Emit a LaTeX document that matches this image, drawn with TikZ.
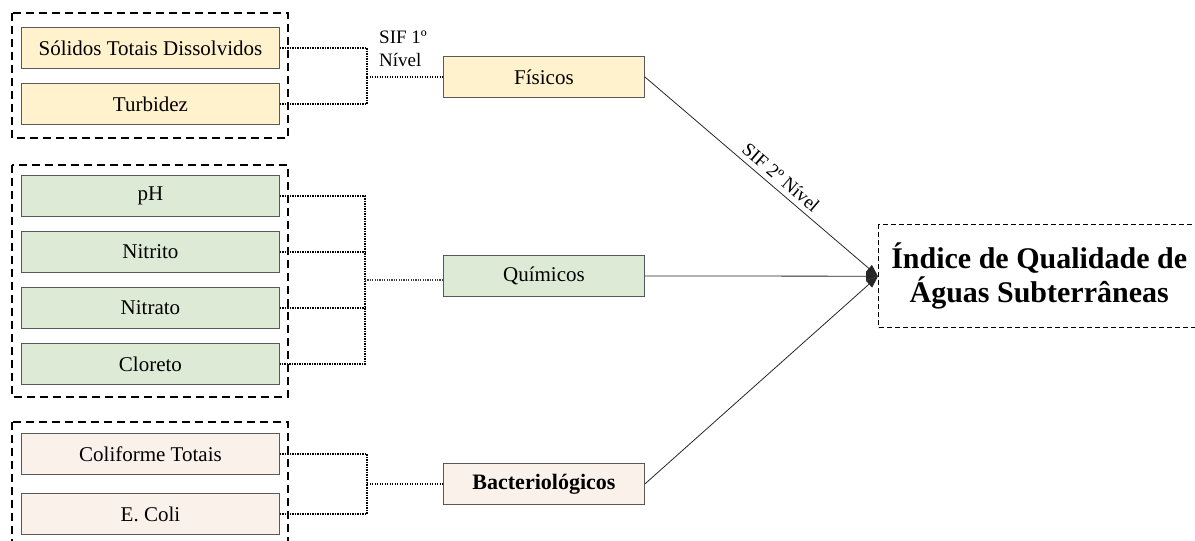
\documentclass[tikz,border=0pt]{standalone}
\usepackage{fontspec}
\setmainfont{Liberation Serif}
\usetikzlibrary{arrows.meta,calc}

\definecolor{fisfill}{HTML}{FFF2CC}
\definecolor{quifill}{HTML}{DDEBD6}
\definecolor{bacfill}{HTML}{FBF1EB}
\definecolor{boxline}{HTML}{595959}

\begin{document}
\begin{tikzpicture}[x=1pt,y=-1pt,
  param/.style={draw=boxline, line width=0.9pt, minimum width=258pt,
    minimum height=41pt, inner sep=0pt, anchor=north west,
    font=\fontsize{21}{24}\selectfont},
  group/.style={draw=boxline, line width=0.9pt, minimum width=201pt,
    minimum height=41pt, inner sep=0pt, anchor=north west,
    font=\fontsize{21}{24}\selectfont},
  groupframe/.style={draw=black, line width=2pt, dash pattern=on 8pt off 5pt},
  link/.style={draw=black, line width=2pt, dash pattern=on 1.4pt off 1.1pt},
  thinlink/.style={draw=black!75, line width=1.3pt, dash pattern=on 1.2pt off 1.2pt},
  flow/.style={draw=black!85, line width=0.8pt,
    -{Triangle[length=12pt,width=9pt]}},
  siflabel/.style={font=\fontsize{19}{23}\selectfont, inner sep=0pt}
]
\useasboundingbox (0,0) rectangle (1195,541);

% dashed frames around the parameter groups
\draw[groupframe] (12,13) rectangle (288,138);
\draw[groupframe] (12,165) rectangle (288,397);
\draw[groupframe] (12,422) rectangle (288,560);

% physical parameters
\node[param, fill=fisfill] (sol) at (21,27) {Sólidos Totais Dissolvidos};
\node[param, fill=fisfill] (tur) at (21,83) {Turbidez};
% chemical parameters
\node[param, fill=quifill] (ph)  at (21,175) {pH};
\node[param, fill=quifill] (nti) at (21,231) {Nitrito};
\node[param, fill=quifill] (nta) at (21,287) {Nitrato};
\node[param, fill=quifill] (clo) at (21,343) {Cloreto};
% bacteriological parameters
\node[param, fill=bacfill] (col) at (21,433) {Coliforme Totais};
\node[param, fill=bacfill] (eco) at (21,493) {E. Coli};

% first-level groups
\node[group, fill=fisfill] (fis) at (443,56) {Físicos};
\node[group, fill=quifill] (qui) at (443,255) {Químicos};
\node[group, fill=bacfill, font=\bfseries\fontsize{22}{24}\selectfont] (bac) at (443,463) {Bacteriológicos};

% final index
\node[draw=black, line width=1.4pt, dash pattern=on 5pt off 3pt, fill=white,
  minimum width=321pt, minimum height=103pt, anchor=north west, align=center,
  font=\bfseries\fontsize{30}{34}\selectfont] (idx) at (878,224)
  {Índice de Qualidade de\\Águas Subterrâneas};

% junctions of the first-level brackets
\coordinate (j1) at (367,76.5);
\coordinate (j2) at (365,280);
\coordinate (j3) at (367,483.5);

\draw[link] (sol.east) -| (j1);
\draw[link] (tur.east) -| (j1);
\draw[link] (j1) -- (j1 -| fis.west);

% one bracket path for the chemical group, plus the inner branches
\draw[link] (ph.east) -- (ph.east -| j2) -- (clo.east -| j2) -- (clo.east);
\draw[link] (nti.east) -- (nti.east -| j2);
\draw[link] (nta.east) -- (nta.east -| j2);
\draw[thinlink] (j2) -- (j2 -| qui.west);

\draw[link] (col.east) -| (j3);
\draw[link] (eco.east) -| (j3);
\draw[link] (j3) -- (j3 -| bac.west);

\node[siflabel, align=left, anchor=north west] (sif1) at (379,31) {SIF 1º\\Nível};

% second-level aggregation
\draw[flow] (fis.east) -- node[siflabel, sloped, above=5pt, pos=0.55] (sif2) {SIF 2º Nível} (idx.west);
\draw[flow] (qui.east) -- (idx.west);
\draw[flow] (bac.east) -- (idx.west);
\end{tikzpicture}
\end{document}
